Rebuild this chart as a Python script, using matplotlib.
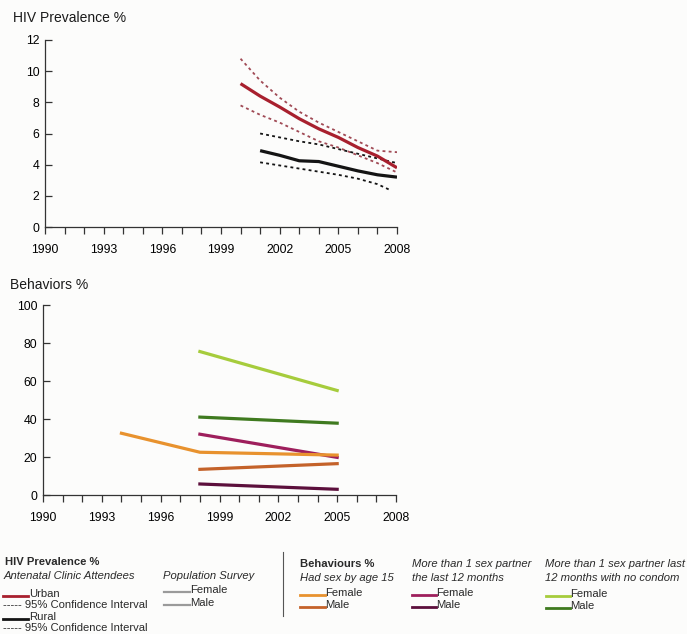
import matplotlib
matplotlib.use("Agg")
import matplotlib.pyplot as plt
from matplotlib.lines import Line2D
from matplotlib.ticker import MultipleLocator

plt.rcParams['font.family'] = ['Liberation Sans', 'DejaVu Sans']

# ---- HIV prevalence among antenatal clinic attendees (%) ----
urban_years = [2000, 2001, 2002, 2003, 2004, 2005, 2006, 2007, 2008]
urban = [9.2, 8.4, 7.7, 6.95, 6.3, 5.75, 5.1, 4.55, 3.8]
urban_hi = [10.8, 9.4, 8.3, 7.4, 6.7, 6.1, 5.5, 4.9, 4.8]
urban_lo = [7.8, 7.2, 6.7, 6.1, 5.5, 5.1, 4.6, 4.1, 3.5]

rural_years = [2001, 2002, 2003, 2004, 2005, 2006, 2007, 2008]
rural = [4.9, 4.6, 4.25, 4.2, 3.9, 3.6, 3.35, 3.2]
rural_hi = [6.0, 5.75, 5.5, 5.3, 5.0, 4.7, 4.4, 4.1]
rural_lo_years = [2001, 2002, 2003, 2004, 2005, 2006, 2007, 2007.6]
rural_lo = [4.15, 3.95, 3.75, 3.55, 3.35, 3.1, 2.75, 2.4]

# ---- Behaviours (%) ----
sex15_years = [1994, 1998, 2005]
sex15_female = [32.5, 22.5, 21]
survey_years = [1998, 2005]
sex15_male = [13.5, 16.5]
partners_female = [32, 19.8]
partners_male = [5.8, 3.0]
nocondom_female = [75.5, 55]
nocondom_male = [41, 37.8]

x_ticks = [1990, 1993, 1996, 1999, 2002, 2005, 2008]
hiv_ticks = [0, 2, 4, 6, 8, 10, 12]
beh_ticks = [0, 20, 40, 60, 80, 100]

RED = '#a8202e'
BLACK = '#141414'
ORANGE = '#e8922e'
BROWN = '#c4622a'
MAGENTA = '#9e1f5c'
PLUM = '#5c0f3c'
LGREEN = '#a6cc3c'
DGREEN = '#3f7a1f'
GREY = '#9a9a9a'

W, H = 687, 634
fig = plt.figure(figsize=(W / 100, H / 100), dpi=100)
fig.patch.set_facecolor('#fcfcfb')


def style_axis(ax, ymax, yticks):
    ax.set_facecolor('none')
    ax.set_xlim(1990, 2008)
    ax.set_ylim(0, ymax)
    for s in ('top', 'right'):
        ax.spines[s].set_visible(False)
    for s in ('left', 'bottom'):
        ax.spines[s].set_color('#333333')
        ax.spines[s].set_linewidth(0.9)
    ax.set_xticks(x_ticks)
    ax.xaxis.set_minor_locator(MultipleLocator(1))
    ax.set_yticks(yticks)
    ax.tick_params(axis='x', which='both', direction='out', length=5,
                   width=0.9, color='#333333', pad=7, labelsize=8.8)
    ax.tick_params(axis='y', direction='in', length=5, width=0.9,
                   color='#333333', pad=4, labelsize=8.8)
    for lab in ax.get_xticklabels() + ax.get_yticklabels():
        lab.set_color('#000000')


# Top panel: HIV prevalence
ax1 = fig.add_axes([45 / W, 1 - 227 / H, 352 / W, 187 / H])
style_axis(ax1, 12, hiv_ticks)
dot = (0, (1.6, 1.8))
ax1.plot(urban_years, urban_hi, color='#a04a55', lw=1.3, linestyle=dot)
ax1.plot(urban_years, urban_lo, color='#a04a55', lw=1.3, linestyle=dot)
ax1.plot(rural_years, rural_hi, color=BLACK, lw=1.3, linestyle=dot)
ax1.plot(rural_lo_years, rural_lo, color=BLACK, lw=1.3, linestyle=dot)
ax1.plot(urban_years, urban, color=RED, lw=2.3, solid_capstyle='butt')
ax1.plot(rural_years, rural, color=BLACK, lw=2.3, solid_capstyle='butt')
fig.text(13 / W, 1 - 18 / H, 'HIV Prevalence %', fontsize=10, va='center',
         ha='left', color='#1a1a1a')

# Bottom panel: behaviours
ax2 = fig.add_axes([43 / W, 1 - 495 / H, 353 / W, 190 / H])
style_axis(ax2, 100, beh_ticks)
ax2.plot(survey_years, nocondom_female, color=LGREEN, lw=2.3)
ax2.plot(survey_years, nocondom_male, color=DGREEN, lw=2.3)
ax2.plot(survey_years, partners_female, color=MAGENTA, lw=2.3)
ax2.plot(sex15_years, sex15_female, color=ORANGE, lw=2.3)
ax2.plot(survey_years, sex15_male, color=BROWN, lw=2.3)
ax2.plot(survey_years, partners_male, color=PLUM, lw=2.3)
fig.text(10 / W, 1 - 285 / H, 'Behaviors %', fontsize=10, va='center',
         ha='left', color='#1a1a1a')

# ---- Key ----
TXT = '#2a2a2a'


def ftext(x, y, s, **kw):
    kw.setdefault('fontsize', 8.1)
    kw.setdefault('color', TXT)
    fig.text(x / W, 1 - y / H, s, va='center', ha='left', **kw)


def swatch(x0, x1, y, color, lw=2.0, ls='-'):
    fig.add_artist(Line2D([x0 / W, x1 / W], [1 - y / H, 1 - y / H],
                          color=color, lw=lw, linestyle=ls,
                          transform=fig.transFigure))


ftext(5, 562, 'HIV Prevalence %', fontweight='bold')
ftext(4, 576, 'Antenatal Clinic Attendees', style='italic')
swatch(3, 28, 596, RED)
ftext(29, 594, 'Urban')
ftext(3, 605.5, '----- 95% Confidence Interval')
swatch(3, 28, 619, BLACK)
ftext(29, 617, 'Rural')
ftext(3, 628, '----- 95% Confidence Interval')

ftext(163, 576, 'Population Survey', style='italic')
swatch(164, 190, 592, GREY, lw=1.6)
ftext(190, 590, 'Female')
swatch(164, 190, 605, GREY, lw=1.6)
ftext(190, 603, 'Male')

fig.add_artist(Line2D([283 / W, 283 / W], [1 - 552 / H, 1 - 616 / H],
                      color='#555555', lw=0.8, transform=fig.transFigure))

ftext(300, 564, 'Behaviours %', fontweight='bold')
ftext(300, 578, 'Had sex by age 15', style='italic')
swatch(300, 325, 595, ORANGE)
ftext(325, 593, 'Female')
swatch(300, 325, 607, BROWN)
ftext(325, 605, 'Male')

ftext(412, 564, 'More than 1 sex partner', style='italic')
ftext(412, 578, 'the last 12 months', style='italic')
swatch(412, 436, 595, MAGENTA)
ftext(436, 593, 'Female')
swatch(412, 436, 607, PLUM)
ftext(436, 605, 'Male')

ftext(545, 564, 'More than 1 sex partner last', style='italic')
ftext(545, 578, '12 months with no condom', style='italic')
swatch(546, 570, 596, LGREEN)
ftext(570, 594, 'Female')
swatch(546, 570, 608, DGREEN)
ftext(570, 606, 'Male')

fig.savefig('out.png', dpi=100, facecolor=fig.get_facecolor())
